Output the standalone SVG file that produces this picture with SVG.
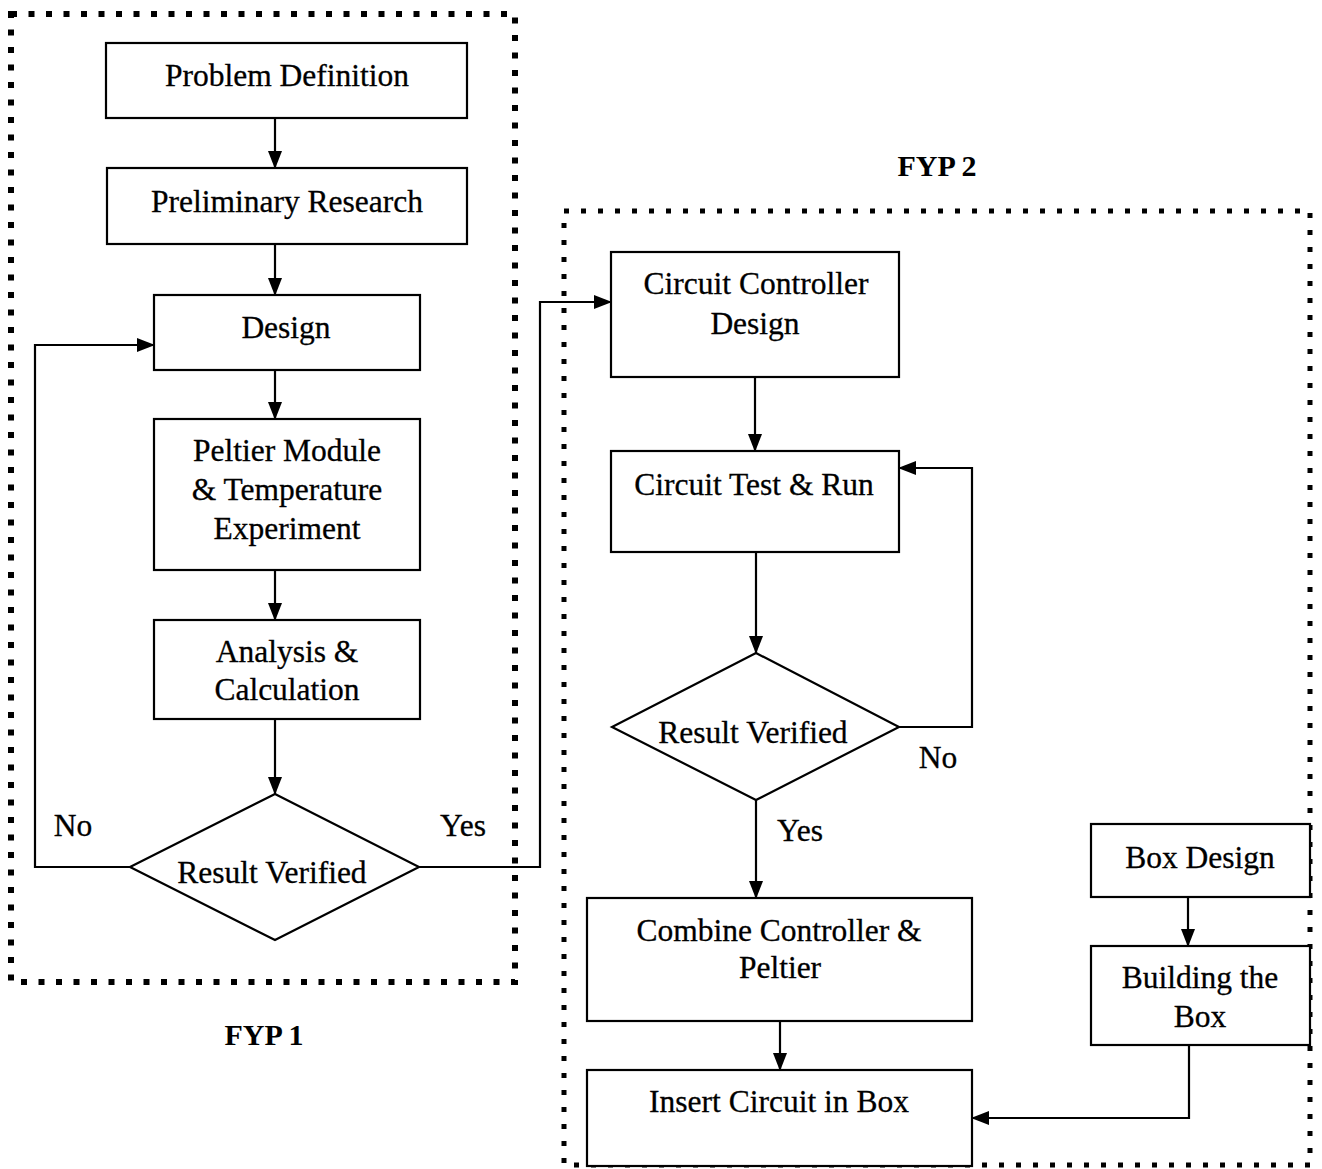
<svg xmlns="http://www.w3.org/2000/svg" width="1322" height="1169" viewBox="0 0 1322 1169">
<defs>
<marker id="ah" markerWidth="18" markerHeight="14" refX="17" refY="7" orient="auto" markerUnits="userSpaceOnUse">
<path d="M0,0 L18,7 L0,14 Z" fill="#000"/>
</marker>
<style>
.box{fill:#fff;stroke:#000;stroke-width:2.2}
.t{font-family:"Liberation Serif","Times New Roman",serif;font-size:31.5px;text-anchor:middle;fill:#000;stroke:#000;stroke-width:0.3}
.lbl{font-family:"Liberation Serif","Times New Roman",serif;font-size:31.5px;text-anchor:middle;fill:#000;stroke:#000;stroke-width:0.3}
.ttl{font-family:"Liberation Serif","Times New Roman",serif;font-size:30px;font-weight:bold;text-anchor:middle;fill:#000}
.c{fill:none;stroke:#000;stroke-width:2.2}
.f1{fill:none;stroke:#000;stroke-width:6;stroke-dasharray:6 11.5}
.f2{fill:none;stroke:#000;stroke-width:5;stroke-dasharray:5 12}
</style>
</defs>
<rect width="1322" height="1169" fill="#fff"/>
<g id="frames">
<rect class="f1" x="11" y="14" width="504" height="968"/>
<rect class="f2" x="564" y="211" width="746" height="954"/>
<text class="ttl" x="264" y="1045">FYP 1</text>
<text class="ttl" x="937" y="176">FYP 2</text>
</g>
<g id="connectors">
<line class="c" x1="275" y1="118" x2="275" y2="168" marker-end="url(#ah)"/>
<line class="c" x1="275" y1="244" x2="275" y2="295" marker-end="url(#ah)"/>
<line class="c" x1="275" y1="370" x2="275" y2="419" marker-end="url(#ah)"/>
<line class="c" x1="275" y1="570" x2="275" y2="620" marker-end="url(#ah)"/>
<line class="c" x1="275" y1="719" x2="275" y2="794" marker-end="url(#ah)"/>
<polyline class="c" points="130,867 35,867 35,345 154,345" marker-end="url(#ah)"/>
<polyline class="c" points="419,867 540,867 540,302 611,302" marker-end="url(#ah)"/>
<line class="c" x1="755" y1="377" x2="755" y2="451" marker-end="url(#ah)"/>
<line class="c" x1="756" y1="552" x2="756" y2="653" marker-end="url(#ah)"/>
<polyline class="c" points="899,727 972,727 972,468 899,468" marker-end="url(#ah)"/>
<line class="c" x1="756" y1="800" x2="756" y2="898" marker-end="url(#ah)"/>
<line class="c" x1="780" y1="1021" x2="780" y2="1070" marker-end="url(#ah)"/>
<line class="c" x1="1188" y1="897" x2="1188" y2="946" marker-end="url(#ah)"/>
<polyline class="c" points="1189,1045 1189,1118 972,1118" marker-end="url(#ah)"/>
<text class="lbl" x="73" y="836">No</text>
<text class="lbl" x="463" y="836">Yes</text>
<text class="lbl" x="938" y="768">No</text>
<text class="lbl" x="800" y="841">Yes</text>
</g>
<g id="n1"><rect class="box" x="106" y="43" width="361" height="75"/><text class="t" x="287" y="86">Problem Definition</text></g>
<g id="n2"><rect class="box" x="107" y="168" width="360" height="76"/><text class="t" x="287" y="212">Preliminary Research</text></g>
<g id="n3"><rect class="box" x="154" y="295" width="266" height="75"/><text class="t" x="286" y="338">Design</text></g>
<g id="n4"><rect class="box" x="154" y="419" width="266" height="151"/><text class="t" x="287" y="461">Peltier Module</text><text class="t" x="287" y="500">&amp; Temperature</text><text class="t" x="287" y="539">Experiment</text></g>
<g id="n5"><rect class="box" x="154" y="620" width="266" height="99"/><text class="t" x="287" y="662">Analysis &amp;</text><text class="t" x="287" y="700">Calculation</text></g>
<g id="n6"><polygon class="box" points="275,794 419,867 275,940 130,867"/><text class="t" x="272" y="883">Result Verified</text></g>
<g id="n7"><rect class="box" x="611" y="252" width="288" height="125"/><text class="t" x="756" y="294">Circuit Controller</text><text class="t" x="755" y="334">Design</text></g>
<g id="n8"><rect class="box" x="611" y="451" width="288" height="101"/><text class="t" x="754" y="495">Circuit Test &amp; Run</text></g>
<g id="n9"><polygon class="box" points="756,653 899,727 756,800 612,727"/><text class="t" x="753" y="743">Result Verified</text></g>
<g id="n10"><rect class="box" x="587" y="898" width="385" height="123"/><text class="t" x="779" y="941">Combine Controller &amp;</text><text class="t" x="780" y="978">Peltier</text></g>
<g id="n11"><rect class="box" x="587" y="1070" width="385" height="96"/><text class="t" x="779" y="1112">Insert Circuit in Box</text></g>
<g id="n12"><rect class="box" x="1091" y="824" width="219" height="73"/><text class="t" x="1200" y="868">Box Design</text></g>
<g id="n13"><rect class="box" x="1091" y="946" width="219" height="99"/><text class="t" x="1200" y="988">Building the</text><text class="t" x="1200" y="1027">Box</text></g>
</svg>
